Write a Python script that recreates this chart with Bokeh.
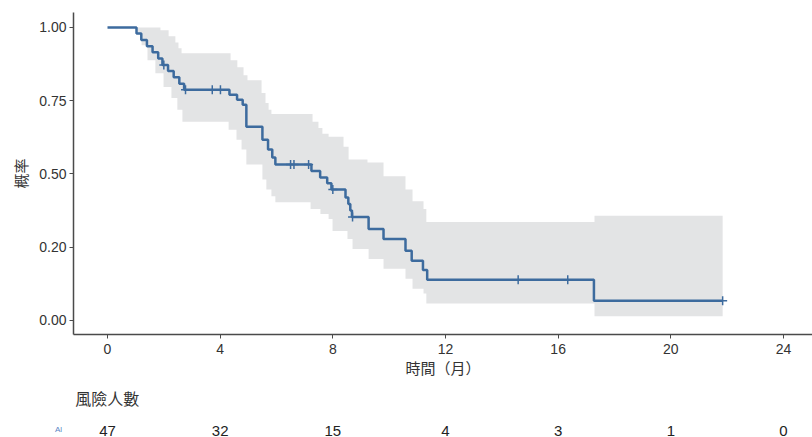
from bokeh.plotting import figure
from bokeh.layouts import column
from bokeh.models import Range1d, FixedTicker
from bokeh.core.properties import value
from bokeh.embed import file_html
from bokeh.resources import INLINE

# ---- data ----
km_time = [0, 1.03, 1.2, 1.4, 1.6, 1.8, 1.95, 2.15, 2.35, 2.55, 2.72, 4.33, 4.6, 4.8, 4.93,
           5.5, 5.7, 5.85, 5.96, 7.24, 7.55, 7.8, 7.95, 8.45, 8.55, 8.62, 8.68, 9.27, 9.8,
           10.58, 10.8, 11.2, 11.35, 17.27]
km_surv = [1.0, 0.979, 0.957, 0.936, 0.915, 0.894, 0.872, 0.851, 0.830, 0.808, 0.787, 0.770,
           0.753, 0.736, 0.661, 0.617, 0.583, 0.556, 0.532, 0.510, 0.488, 0.468, 0.447, 0.420,
           0.397, 0.375, 0.353, 0.312, 0.278, 0.238, 0.204, 0.172, 0.139, 0.067]
end_time = 21.84

censor_time = [2.0, 2.77, 3.72, 4.01, 6.5, 6.62, 7.14, 8.0, 8.7, 14.58, 16.34, 21.84]
censor_surv = [0.872, 0.787, 0.787, 0.787, 0.532, 0.532, 0.532, 0.447, 0.353, 0.139, 0.139, 0.067]

upper_time = [0, 1.03, 1.88, 2.17, 2.41, 2.52, 2.63, 4.37, 4.61, 4.83, 4.97, 5.47, 5.61, 5.72,
              5.82, 7.28, 7.49, 7.63, 7.85, 8.38, 8.56, 9.23, 9.80, 10.58, 10.83, 11.22, 11.32, 17.29]
upper_val = [1.0, 1.0, 0.99, 0.97, 0.949, 0.929, 0.912, 0.888, 0.864, 0.837, 0.820, 0.776, 0.742,
             0.719, 0.705, 0.678, 0.657, 0.637, 0.627, 0.593, 0.549, 0.539, 0.492, 0.447, 0.407,
             0.380, 0.336, 0.357]
lower_time = [0, 1.03, 1.21, 1.42, 1.70, 1.99, 2.27, 2.48, 2.66, 4.30, 4.58, 4.76, 4.93, 5.50,
              5.64, 5.82, 5.96, 7.21, 7.56, 7.85, 7.99, 8.52, 8.70, 9.27, 9.80, 10.58, 10.83,
              11.22, 11.32, 17.29]
lower_val = [1.0, 0.98, 0.939, 0.888, 0.844, 0.797, 0.759, 0.719, 0.678, 0.651, 0.617, 0.583,
             0.532, 0.481, 0.447, 0.424, 0.403, 0.380, 0.363, 0.346, 0.305, 0.278, 0.244, 0.210,
             0.176, 0.142, 0.108, 0.092, 0.058, 0.014]

x_ticks = [0, 4, 8, 12, 16, 20, 24]
y_ticks = [0.0, 0.25, 0.5, 0.75, 1.0]
y_tick_labels = ["0.00", "0.20", "0.50", "0.75", "1.00"]

risk_time = [0, 4, 8, 12, 16, 20, 24]
risk_n = [47, 32, 15, 4, 3, 1, 0]

x_label = "時間（月）"
y_label = "概率"
risk_title = "風險人數"
group_name = "Al"

# ---- styles ----
LINE = "#3d6b9e"
BAND = "#e3e4e5"
AXIS = "#4a4a4a"
TXT = "#333333"
SANS = "Liberation Sans"
CJK = "Noto Sans CJK TC"


def step_points(ts, vs, end):
    xs, ys = [], []
    for i, (t, v) in enumerate(zip(ts, vs)):
        t_next = ts[i + 1] if i + 1 < len(ts) else end
        xs += [t, t_next]
        ys += [v, v]
    return xs, ys


p = figure(width=812, height=380, x_range=Range1d(-1.207, 25.03), y_range=Range1d(-0.048, 1.051),
           output_backend="svg", toolbar_location=None,
           min_border_left=73, min_border_right=0, min_border_top=12, min_border_bottom=43)
p.grid.visible = False
p.outline_line_color = None
p.background_fill_color = "white"

ux, uy = step_points(upper_time, upper_val, end_time)
lx, ly = step_points(lower_time, lower_val, end_time)
p.patch(ux + lx[::-1], uy + ly[::-1], fill_color=BAND, line_color=None)

p.step(km_time + [end_time], km_surv + [km_surv[-1]], mode="after",
       line_color=LINE, line_width=2.5)
p.scatter(censor_time, censor_surv, marker="cross", size=9, line_color=LINE, line_width=1.5)

for ax in (p.xaxis[0], p.yaxis[0]):
    ax.axis_line_color = AXIS
    ax.axis_line_width = 1.5
    ax.major_tick_line_color = AXIS
    ax.major_tick_out = 4
    ax.major_tick_in = 0
    ax.minor_tick_line_color = None
    ax.major_label_text_font = SANS
    ax.major_label_text_font_size = "14px"
    ax.major_label_text_color = TXT
    ax.axis_label_text_font = CJK
    ax.axis_label_text_font_size = "15px"
    ax.axis_label_text_font_style = "normal"
    ax.axis_label_text_color = TXT

p.xaxis.ticker = FixedTicker(ticks=x_ticks)
p.xaxis.major_label_standoff = 5
p.xaxis.axis_label = x_label
p.xaxis.axis_label_standoff = 0

p.yaxis.ticker = FixedTicker(ticks=y_ticks)
p.yaxis.major_label_overrides = dict(zip(y_ticks, y_tick_labels))
p.yaxis.major_label_standoff = 3
p.yaxis.axis_label = y_label
p.yaxis.axis_label_standoff = 5

# ---- risk table ----
r = figure(width=812, height=57, x_range=Range1d(-3.798, 25.03), y_range=Range1d(0, 57),
           output_backend="svg", toolbar_location=None,
           min_border_left=0, min_border_right=0, min_border_top=0, min_border_bottom=0)
r.frame_align = False
r.axis.visible = False
r.grid.visible = False
r.outline_line_color = None

r.text(x=[-1.14], y=[40], text=[risk_title], text_font=value(CJK), text_font_size="16px",
       text_color=TXT, text_align="left", text_baseline="middle")
r.text(x=risk_time, y=[7] * len(risk_time), text=[str(n) for n in risk_n],
       text_font=value(SANS), text_font_size="15px", text_color="#222222",
       text_align="center", text_baseline="middle")
r.text(x=[-1.74], y=[8], text=[group_name], text_font=value(SANS), text_font_size="8px",
       text_color="#5b86c5", text_align="center", text_baseline="middle")

layout = column(p, r)
open("out.html", "w").write(file_html(layout, INLINE))
